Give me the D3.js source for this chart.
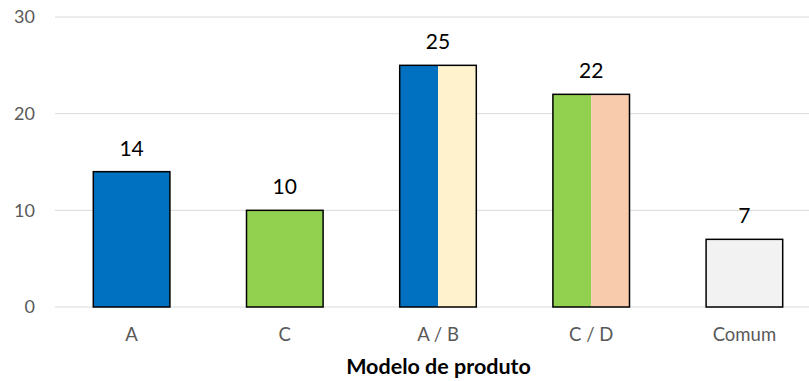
<!DOCTYPE html>
<html>
<head>
<meta charset="utf-8">
<script src="https://cdn.jsdelivr.net/npm/d3@7/dist/d3.min.js"></script>
<style>
  html, body { margin: 0; padding: 0; background: #fff; }
  svg { display: block; font-family: Lato, "Open Sans", sans-serif; }
</style>
</head>
<body>
<svg id="chart" width="809" height="381"></svg>
<script>
// Product models and their counts
const categories = ["A", "C", "A / B", "C / D", "Comum"];
const values = [14, 10, 25, 22, 7];
// Which models make up each bar (split bars show two)
const composition = [["A"], ["C"], ["A", "B"], ["C", "D"], ["Comum"]];
const yTicks = [0, 10, 20, 30];
const xTitle = "Modelo de produto";

const fillOf = {
  A: "#0070C0",
  B: "#FFF2CC",
  C: "#92D050",
  D: "#F8CBAD",
  Comum: "#F2F2F2"
};

const W = 809, H = 381;
const plot = { left: 55, right: 821, top: 17, bottom: 307 };

const svg = d3.select("#chart");

const x = d3.scaleBand()
  .domain(categories)
  .range([plot.left, plot.right])
  .paddingInner(0.5)
  .paddingOuter(0.25);

const y = d3.scaleLinear()
  .domain([0, 30])
  .range([plot.bottom, plot.top]);

// Horizontal gridlines
svg.append("g")
  .selectAll("line")
  .data(yTicks)
  .join("line")
  .attr("x1", plot.left)
  .attr("x2", W)
  .attr("y1", d => y(d))
  .attr("y2", d => y(d))
  .attr("stroke", "#D9D9D9")
  .attr("stroke-width", 1);

// Y tick labels
svg.append("g")
  .selectAll("text")
  .data(yTicks)
  .join("text")
  .attr("x", 35)
  .attr("y", d => y(d))
  .attr("dy", "0.35em")
  .attr("text-anchor", "end")
  .attr("fill", "#595959")
  .attr("font-size", 18)
  .text(d => d);

// Bars: each bar is split evenly between its component models
const bars = svg.append("g")
  .selectAll("g")
  .data(categories.map((c, i) => ({ c, v: values[i], parts: composition[i] })))
  .join("g");

bars.each(function (d) {
  const g = d3.select(this);
  const bw = x.bandwidth();
  const segW = bw / d.parts.length;
  g.selectAll("rect.seg")
    .data(d.parts)
    .join("rect")
    .attr("class", "seg")
    .attr("x", (p, j) => x(d.c) + j * segW)
    .attr("y", y(d.v))
    .attr("width", segW)
    .attr("height", y(0) - y(d.v))
    .attr("fill", p => fillOf[p]);
  g.append("rect")
    .attr("x", x(d.c))
    .attr("y", y(d.v))
    .attr("width", bw)
    .attr("height", y(0) - y(d.v))
    .attr("fill", "none")
    .attr("stroke", "#000")
    .attr("stroke-width", 1.5);
});

// Value labels
bars.append("text")
  .attr("x", d => x(d.c) + x.bandwidth() / 2)
  .attr("y", d => y(d.v) - 16)
  .attr("text-anchor", "middle")
  .attr("fill", "#000")
  .attr("font-size", 21)
  .text(d => d.v);

// Category labels
svg.append("g")
  .selectAll("text")
  .data(categories)
  .join("text")
  .attr("x", d => x(d) + x.bandwidth() / 2)
  .attr("y", 341)
  .attr("text-anchor", "middle")
  .attr("fill", "#595959")
  .attr("font-size", 18.5)
  .text(d => d);

// Axis title
svg.append("text")
  .attr("x", 438.5)
  .attr("y", 374)
  .attr("text-anchor", "middle")
  .attr("font-weight", "bold")
  .attr("font-size", 21.5)
  .attr("fill", "#000")
  .text(xTitle);
</script>
</body>
</html>
